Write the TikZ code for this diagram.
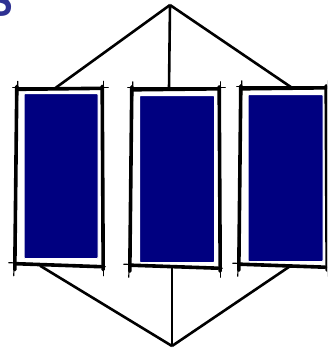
\documentclass[tikz,border=0pt]{standalone}
\usepackage{tikz}
\usetikzlibrary{calc,positioning}
\definecolor{boxblue}{RGB}{0,0,128}
\definecolor{letterblue}{RGB}{46,49,146}

\begin{document}
\begin{tikzpicture}[
  x=1pt,y=-1pt,
  fr/.style={draw=none,minimum width=88pt,minimum height=177pt,inner sep=0pt},
  bl/.style={draw=white,line width=1pt,fill=boxblue,minimum width=74pt,
             minimum height=165pt,inner sep=0pt,rounded corners=1pt},
  sk/.style={line width=3.6pt,line cap=round,black},
  sk2/.style={line width=1.2pt,line cap=round,black},
  ln/.style={line width=2.6pt,black}
]
\useasboundingbox (0,0) rectangle (327,351);
\clip (0,0) rectangle (327,351);

% partial letter cut by the top left corner
\node[text=letterblue,font=\sffamily\bfseries\fontsize{42}{42}\selectfont,
      anchor=south east,inner sep=0pt] (lt) at (14,17) {S};

% frames and blue panels
\node[fr] (f1) at (60,177) {};
\node[fr,minimum width=90pt,minimum height=178pt] (f2) at (176,178) {};
\node[fr,minimum height=178pt] (f3) at (284,177) {};
\node[bl] (p1) at (61,176) {};
\node[bl,minimum width=75pt,minimum height=167pt] (p2) at (177,179) {};
\node[bl,minimum width=75pt,minimum height=167pt] (p3) at (285.5,178) {};

% hand drawn frame sides
\foreach \f in {f1,f2,f3}{
  \draw[sk] ([shift={(1,-2)}]\f.north west) -- ([shift={(-1,4)}]\f.south west);
  \draw[sk2] ([shift={(2,-7)}]\f.north west) -- ([shift={(-2,10)}]\f.south west);
  \draw[sk] ([shift={(-2,-2)}]\f.north east) -- ([shift={(-1,4)}]\f.south east);
  \draw[sk2] ([shift={(-1,-7)}]\f.north east) -- ([shift={(-1,10)}]\f.south east);
  \draw[sk] ([shift={(2,1)}]\f.north west) -- ([shift={(-2,0)}]\f.north east);
  \draw[sk2] ([shift={(-3,-1)}]\f.north west) -- ([shift={(4,-1)}]\f.north east);
  \draw[sk] ([shift={(0,-2)}]\f.south west) -- ([shift={(-3,1)}]\f.south east);
  \draw[sk2] ([shift={(-7,-3)}]\f.south west) -- ([shift={(1,1)}]\f.south east);
}

% apexes
\coordinate (top) at (170,5);
\coordinate (bot) at (172,346);

% connectors
\draw[ln] (top) -- ([xshift=-5pt]f1.north);
\draw[ln] (top) -- ([xshift=-7pt]f2.north);
\draw[ln] (top) -- ([xshift=8pt]f3.north);
\draw[ln] (bot) -- ([xshift=-20pt]f1.south);
\draw[ln] (bot) -- ([xshift=-4pt]f2.south);
\draw[ln] (bot) -- ([xshift=6pt]f3.south);
\end{tikzpicture}
\end{document}
